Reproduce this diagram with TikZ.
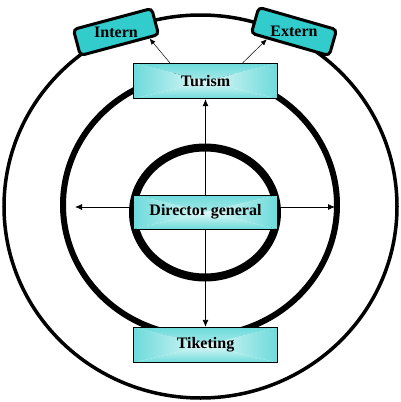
\documentclass[tikz,border=0pt]{standalone}
\usepackage{fontspec}
\setmainfont{Liberation Serif}
\usetikzlibrary{arrows.meta,calc}
\definecolor{boxcyan}{RGB}{51,204,204}
\pgfdeclareverticalshading{cyanfade}{100bp}{color(0bp)=(white); color(12bp)=(white); color(100bp)=(boxcyan)}
\tikzset{
  lbl/.style={font=\fontsize{16}{19}\selectfont\bfseries},
  fadebox/.style={draw=black, line width=0.8pt, minimum width=144pt, inner sep=0pt, lbl,
    path picture={
      \shade[shading=cyanfade] (path picture bounding box.north west) -- (path picture bounding box.north east) -- (path picture bounding box.center) -- cycle;
      \shade[shading=cyanfade, shading angle=180] (path picture bounding box.south west) -- (path picture bounding box.south east) -- (path picture bounding box.center) -- cycle;
      \shade[shading=cyanfade, shading angle=90] (path picture bounding box.north west) -- (path picture bounding box.south west) -- (path picture bounding box.center) -- cycle;
      \shade[shading=cyanfade, shading angle=-90] (path picture bounding box.north east) -- (path picture bounding box.south east) -- (path picture bounding box.center) -- cycle;
    }},
  tagbox/.style={draw=black, line width=3pt, fill=boxcyan, rounded corners=4pt, minimum width=81pt, minimum height=27pt, inner sep=0pt},
  tagtext/.style={lbl, inner sep=0pt},
  bigarrow/.style={line width=0.8pt, -{Latex[length=7pt,width=6pt]}},
  thinarrow/.style={line width=0.5pt, -{Latex[length=6pt,width=5pt]}},
}
\begin{document}
\begin{tikzpicture}[x=1pt,y=1pt]
\useasboundingbox (0,0) rectangle (400,-402);
% rings
\draw[line width=3.5pt] (200.5,-206.5) ellipse [x radius=196.5, y radius=191.5];
\draw[line width=6pt] (200,-205) ellipse [x radius=137, y radius=131];
\draw[line width=8pt] (205,-212.5) ellipse [x radius=72, y radius=65];
% tags
\node[tagbox, rotate=15] (intern) at (116,-32) {};
\node[tagtext] at (intern.center) {Intern};
\node[tagbox, rotate=-16] (extern) at (294,-31.5) {};
\node[tagtext] at (extern.center) {Extern};
% main boxes
\node[fadebox, minimum height=35.5pt] (turism) at (205.5,-81) {Turism};
\node[fadebox, minimum height=34pt] (director) at (205.5,-212) {Director general};
\node[fadebox, minimum height=35.5pt] (tiketing) at (205.5,-345) {Tiketing};
% connectors
\coordinate (lt) at (75,-207);
\coordinate (rt) at (335,-207);
\draw[bigarrow] (director.north) -- (turism.south);
\draw[bigarrow] (director.south) -- (tiketing.north);
\draw[bigarrow] (director.west |- lt) -- (lt);
\draw[bigarrow] (director.east |- rt) -- (rt);
\draw[thinarrow] (turism.153) -- (intern.-26);
\draw[thinarrow] (turism.26) -- (extern.-148);
\end{tikzpicture}
\end{document}
